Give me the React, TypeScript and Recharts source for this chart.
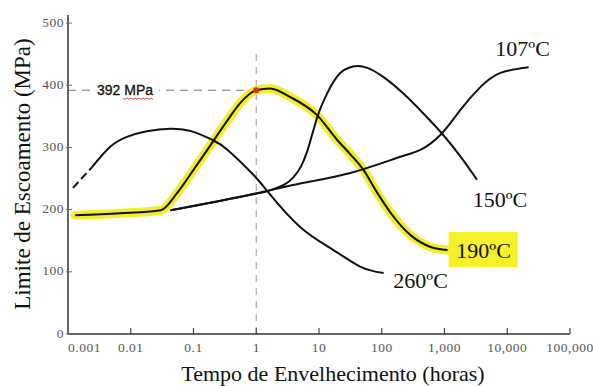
import React from 'react';
import { LineChart, Line, XAxis, YAxis, ReferenceLine, ReferenceDot, LabelList } from 'recharts';

// ---- data (time in hours, yield strength in MPa) ----
const seriesNames = ['107ºC', '150ºC', '190ºC', '260ºC'];

const t107 = [0.043, 0.8, 5.0, 31.6, 199, 413, 857, 1780, 3720, 7800, 21900];
const s107 = [199, 224, 242, 259, 285, 296, 320, 360, 397, 420, 429];

const t150 = [0.043, 0.8, 1.66, 3.9, 5.2, 6.5, 8, 9.4, 13.5, 22, 31.6, 42, 59, 107, 219, 457, 955, 1780, 3300];
const s150 = [199, 224, 231, 252, 270, 294, 325, 349, 387, 420, 429, 431, 428, 413, 387, 355, 320, 286, 248];

const t190 = [0.0013, 0.0068, 0.03, 0.055, 0.1, 0.166, 0.35, 0.55, 1, 1.66, 3.5, 9.3, 19.5, 31.6, 51, 85, 138, 288, 600, 1120];
const s190 = [191, 194, 199, 227, 264, 296, 344, 371, 392, 395, 381, 352, 312, 289, 264, 227, 195, 159, 140, 135];

const t260dash = [0.0012, 0.0024];
const s260dash = [235, 268];
const t260 = [0.0024, 0.0047, 0.0087, 0.018, 0.043, 0.1, 0.2, 0.35, 0.9, 1.55, 5, 17, 46, 107];
const s260 = [268, 301, 317, 326, 330, 325, 312, 296, 256, 228, 172, 135, 108, 98];

const markTime = 1;
const markValue = 392;
const markText = '392 MPa';

const xTicks = [0.001, 0.01, 0.1, 1, 10, 100, 1000, 10000, 100000];
const yTicks = [0, 100, 200, 300, 400, 500];

const xTitle = 'Tempo de Envelhecimento (horas)';
const yTitle = 'Limite de Escoamento (MPa)';

const zip = (t: number[], s: number[]) => t.map((v, i) => ({ t: v, y: s[i] }));
const d107 = zip(t107, s107);
const d150 = zip(t150, s150);
const d190 = zip(t190, s190);
const d260 = zip(t260, s260);
const d260dash = zip(t260dash, s260dash);

const SERIF = '"Liberation Serif", "Times New Roman", serif';
const SANS = '"Liberation Sans", Arial, sans-serif';
const INK = '#111';

const fmtX = (v: number) => (v < 1 ? String(v) : v.toLocaleString('en-US'));

const XTick = (props: any) => {
  const { x, y, payload } = props;
  const axisY = y - 13;
  const first = payload.value === xTicks[0];
  return (
    <g>
      {!first && <line x1={x} x2={x} y1={axisY} y2={axisY - 6} stroke="#444" strokeWidth={1.2} />}
      <text x={x} y={y} textAnchor={first ? 'start' : 'middle'} dominantBaseline="central"
        fontFamily={SERIF} fontSize={13.5} fill="#555" letterSpacing={0.5}>{fmtX(payload.value)}</text>
    </g>
  );
};

const YTick = (props: any) => {
  const { x, y, payload } = props;
  const axisX = x + 3;
  return (
    <g>
      <line x1={axisX - 2} x2={axisX + 4} y1={y} y2={y} stroke="#666" strokeWidth={1} />
      <text x={x - 1} y={y - 1} textAnchor="end" dominantBaseline="central"
        fontFamily={SERIF} fontSize={13.5} fill="#555" letterSpacing={0.5}>{payload.value}</text>
    </g>
  );
};

const YTitle = () => (
  <text x={22} y={174} transform="rotate(-90, 22, 174)" textAnchor="middle" dominantBaseline="central"
    fontFamily={SERIF} fontSize={23} fill={INK}>{yTitle}</text>
);

const XTitle = () => (
  <text x={333} y={373} textAnchor="middle" dominantBaseline="central"
    fontFamily={SERIF} fontSize={22} fill={INK}>{xTitle}</text>
);

const endLabel = (text: string, n: number, dx: number, dy: number, boxed = false) => (props: any) => {
  if (props.index !== n - 1) return null;
  const x = props.x ?? props.viewBox?.x;
  const y = props.y ?? props.viewBox?.y;
  return (
    <g>
      {boxed && <rect x={x + 1} y={y - 18} width={69} height={35} fill="#f4f02a" />}
      <text x={x + dx} y={y + dy} textAnchor="middle" dominantBaseline="central"
        fontFamily={SERIF} fontSize={22} fill={INK}>{text}</text>
    </g>
  );
};

const MarkLabel = (props: any) => {
  const vb = props.viewBox || {};
  const x0 = vb.x ?? 68;
  const y0 = vb.y ?? 91;
  let wave = `M ${x0 + 55} ${y0 + 8}`;
  for (let i = 1; i <= 15; i++) wave += ` L ${x0 + 55 + i * 2} ${y0 + 8 + (i % 2 ? 1.2 : -0.2)}`;
  return (
    <g>
      <rect x={x0 + 25} y={y0 - 9} width={66} height={18} fill="#fff" />
      <text x={x0 + 29} y={y0} dominantBaseline="central" fontFamily={SANS} fontSize={14} fill="#111"
        stroke="#111" strokeWidth={0.3}>
        {markText}
      </text>
      <path d={wave} fill="none" stroke="#e04040" strokeWidth={0.9} />
    </g>
  );
};

export default function App() {
  return (
    <div style={{ position: 'absolute', left: 0, top: 0, background: '#fff' }}>
      <LineChart width={593} height={386} margin={{ top: 15, right: 23, bottom: 0, left: 0 }}>
        <XAxis dataKey="t" type="number" scale="log" domain={[0.001, 100000]} ticks={xTicks}
          allowDataOverflow height={52} tickSize={0} tickMargin={13} tick={<XTick />} interval={0}
          axisLine={{ stroke: '#333', strokeWidth: 1.5 }} label={<XTitle />} />
        <YAxis type="number" domain={[0, 513]} ticks={yTicks} width={68} tickSize={0} tickMargin={3}
          tick={<YTick />} interval={0} axisLine={{ stroke: '#333', strokeWidth: 1.5 }} label={<YTitle />} />

        <ReferenceLine segment={[{ x: markTime, y: 0 }, { x: markTime, y: 453 }]} stroke="#aaa"
          strokeDasharray="7 6" strokeWidth={1.2} ifOverflow="visible" />
        <ReferenceLine segment={[{ x: 0.001, y: markValue }, { x: markTime, y: markValue }]} stroke="#777"
          strokeDasharray="8 6" strokeWidth={1.2} ifOverflow="visible" label={<MarkLabel />} />

        <Line data={d190} dataKey="y" type="monotone" stroke="#f2ee2a" strokeWidth={9} strokeLinecap="round"
          dot={false} isAnimationActive={false} />

        <Line data={d260dash} dataKey="y" type="linear" stroke={INK} strokeWidth={2} strokeDasharray="8 4"
          dot={false} isAnimationActive={false} />
        <Line data={d260} dataKey="y" type="natural" stroke={INK} strokeWidth={2} dot={false} isAnimationActive={false}>
          <LabelList dataKey="y" content={endLabel(seriesNames[3], d260.length, 37, 7)} />
        </Line>
        <Line data={d107} dataKey="y" type="natural" stroke={INK} strokeWidth={2} dot={false} isAnimationActive={false}>
          <LabelList dataKey="y" content={endLabel(seriesNames[0], d107.length, -6, -19)} />
        </Line>
        <Line data={d150} dataKey="y" type="monotone" stroke={INK} strokeWidth={2} dot={false} isAnimationActive={false}>
          <LabelList dataKey="y" content={endLabel(seriesNames[1], d150.length, 23, 20)} />
        </Line>
        <Line data={d190} dataKey="y" type="monotone" stroke={INK} strokeWidth={2} dot={false} isAnimationActive={false}>
          <LabelList dataKey="y" content={endLabel(seriesNames[2], d190.length, 36, 0, true)} />
        </Line>

        <ReferenceDot x={markTime} y={markValue} r={3} fill="#d43030" stroke="none" ifOverflow="visible" />
      </LineChart>
    </div>
  );
}
